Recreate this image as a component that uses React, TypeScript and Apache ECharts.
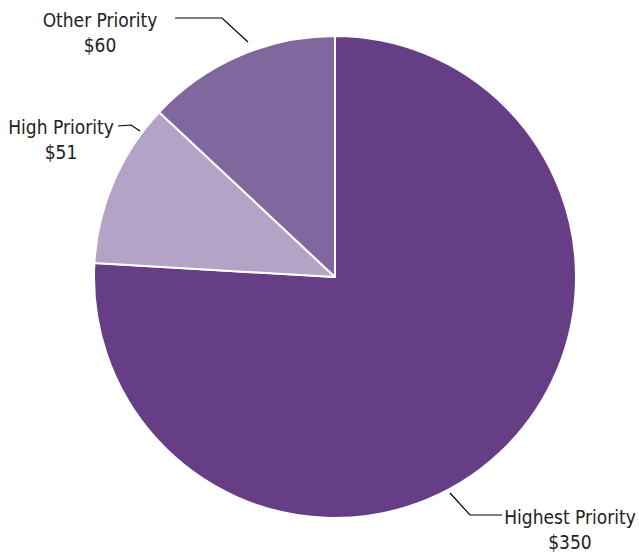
import React, { useEffect, useRef } from "react";
import * as echarts from "echarts";

const categories = ["Highest Priority", "High Priority", "Other Priority"];
const values = [350, 51, 60];
const colors = ["#663E85", "#B3A3C6", "#82679E"];

// label placement (layout only)
const labelPos = [
  { x: 570, y: 504, line: [[450, 493], [470, 515], [502, 515]] },
  { x: 61, y: 114, line: [[140, 131], [131, 125], [118, 126]] },
  { x: 100, y: 7, line: [[248, 42], [222, 18], [175, 18]] },
];

export default function App() {
  const ref = useRef<HTMLDivElement>(null);
  useEffect(() => {
    if (!ref.current) return;
    const chart = echarts.init(ref.current, null, { renderer: "svg" });
    chart.setOption({
      animation: false,
      backgroundColor: "#ffffff",
      series: [
        {
          type: "pie",
          center: [335, 277],
          radius: [0, 241],
          startAngle: 90,
          clockwise: true,
          data: categories.map((c, i) => ({
            name: c,
            value: values[i],
            itemStyle: { color: colors[i] },
          })),
          itemStyle: { borderColor: "#ffffff", borderWidth: 2 },
          label: {
            show: true,
            position: "outside",
            formatter: (p: any) => `${p.name}\n$${p.value}`,
            fontFamily: '"DejaVu Sans Condensed", sans-serif',
            fontSize: 19,
            lineHeight: 25,
            color: "#222222",
            align: "center",
            overflow: "none",
            width: 200,
          },
          labelLine: {
            show: true,
            lineStyle: { color: "#000000", width: 1.2 },
          },
          labelLayout: (params: any) => {
            const lp = labelPos[params.dataIndex];
            return {
              x: lp.x,
              y: lp.y,
              align: "center",
              verticalAlign: "top",
              labelLinePoints: lp.line,
            };
          },
        },
      ],
    });
    return () => chart.dispose();
  }, []);
  return (
    <div
      ref={ref}
      style={{ position: "fixed", left: 0, top: 0, width: 639, height: 554 }}
    />
  );
}
